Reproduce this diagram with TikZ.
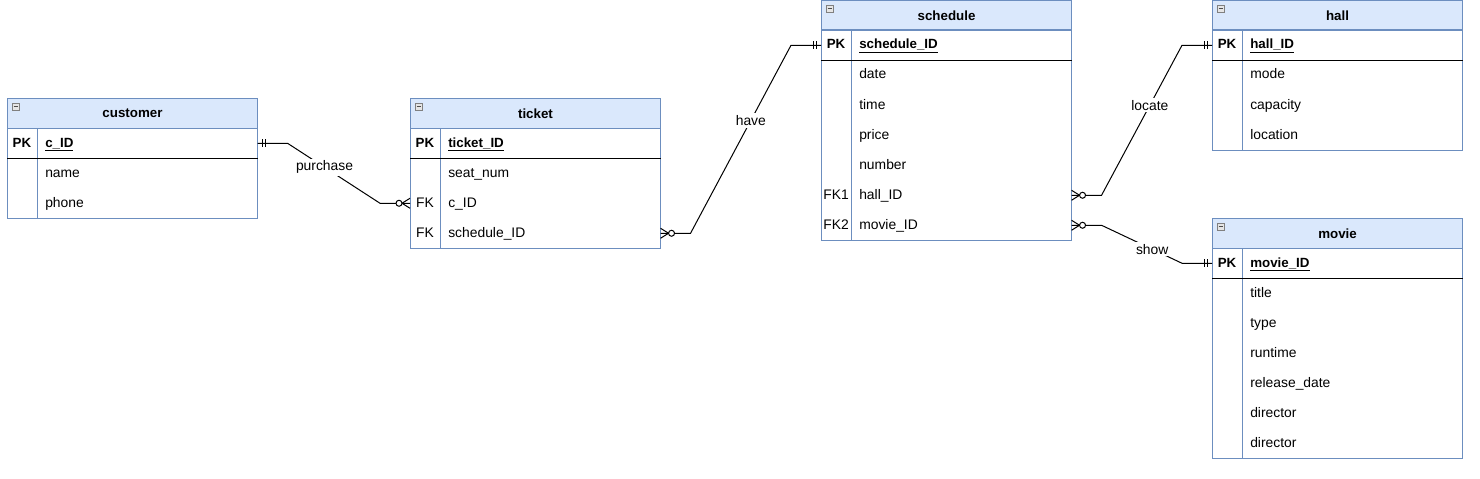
\documentclass[tikz,border=0pt]{standalone}
\usepackage{fontspec}
\setmainfont{Liberation Sans}
\usetikzlibrary{positioning}
\definecolor{hdrfill}{HTML}{DAE8FC}
\definecolor{hdrline}{HTML}{6C8EBF}
\tikzset{
    tblhead/.style={draw=hdrline, fill=hdrfill, line width=0.75pt, minimum width=187.5pt, minimum height=22.5pt, inner sep=0pt, anchor=north west, font=\bfseries},
    rowbox/.style={minimum width=187.5pt, minimum height=22.5pt, inner sep=0pt, anchor=north west},
    keytxt/.style={inner sep=0pt, text height=5.6pt, text depth=0pt},
    fldtxt/.style={anchor=west, inner sep=0pt, text height=5.6pt, text depth=0pt},
    tblline/.style={draw=hdrline, line width=0.75pt},
    rel/.style={line width=0.75pt},
    rellabel/.style={fill=white, inner sep=1.5pt},
    onemark/.pic={\draw[rel] (-5,-4) -- (-5,4) (-8,-4) -- (-8,4);},
    manymark/.pic={\draw[rel] (0,-5) -- (-8,0) -- (0,5); \draw[rel, fill=white] (-11,0) circle (2.25pt);},
    minusbox/.pic={\draw[gray, fill=gray!20, line width=0.5pt] (0,0) rectangle (7,7); \draw[black!70, line width=0.5pt] (1.5,3.5) -- (5.5,3.5);}
}
\begin{document}
\begin{tikzpicture}[x=0.75pt, y=-0.75pt, font=\fontsize{10.4}{12.5}\selectfont]
    \path[fill=white, use as bounding box] (0,0) rectangle (1480,478);

    % customer
    \node[tblhead] (cust) at (7,98) {customer};
    \pic at ([shift={(5,5)}]cust.north west) {minusbox};
    \node[rowbox] (cust-pk) at (7,128) {};
    \node[keytxt, font=\bfseries] at ([xshift=11.25pt]cust-pk.west) {PK};
    \node[fldtxt, font=\bfseries] at ([xshift=28.5pt]cust-pk.west) {\underline{c\_ID}};
    \foreach \k/\f [count=\i] in {/name, /phone} {
        \node[rowbox] (cust-r\i) at (7,{128+30*\i}) {};
        \node[keytxt] at ([xshift=11.25pt]cust-r\i.west) {\k};
        \node[fldtxt] at ([xshift=28.5pt]cust-r\i.west) {\f};
    }
    \draw[tblline] (cust-pk.north west) rectangle (cust-r2.south east);
    \draw[tblline] ([xshift=22.5pt]cust-pk.north west) -- ([xshift=22.5pt]cust-r2.south west);
    \draw[rel] (cust-pk.south west) -- (cust-pk.south east);

    % ticket
    \node[tblhead] (tk) at (410,98) {ticket};
    \pic at ([shift={(5,5)}]tk.north west) {minusbox};
    \node[rowbox] (tk-pk) at (410,128) {};
    \node[keytxt, font=\bfseries] at ([xshift=11.25pt]tk-pk.west) {PK};
    \node[fldtxt, font=\bfseries] at ([xshift=28.5pt]tk-pk.west) {\underline{ticket\_ID}};
    \foreach \k/\f [count=\i] in {/seat\_num, FK/c\_ID, FK/schedule\_ID} {
        \node[rowbox] (tk-r\i) at (410,{128+30*\i}) {};
        \node[keytxt] at ([xshift=11.25pt]tk-r\i.west) {\k};
        \node[fldtxt] at ([xshift=28.5pt]tk-r\i.west) {\f};
    }
    \draw[tblline] (tk-pk.north west) rectangle (tk-r3.south east);
    \draw[tblline] ([xshift=22.5pt]tk-pk.north west) -- ([xshift=22.5pt]tk-r3.south west);
    \draw[rel] (tk-pk.south west) -- (tk-pk.south east);

    % schedule
    \node[tblhead] (sch) at (821,0) {schedule};
    \pic at ([shift={(5,5)}]sch.north west) {minusbox};
    \node[rowbox] (sch-pk) at (821,30) {};
    \node[keytxt, font=\bfseries] at ([xshift=11.25pt]sch-pk.west) {PK};
    \node[fldtxt, font=\bfseries] at ([xshift=28.5pt]sch-pk.west) {\underline{schedule\_ID}};
    \foreach \k/\f [count=\i] in {/date, /time, /price, /number, FK1/hall\_ID, FK2/movie\_ID} {
        \node[rowbox] (sch-r\i) at (821,{30+30*\i}) {};
        \node[keytxt] at ([xshift=11.25pt]sch-r\i.west) {\k};
        \node[fldtxt] at ([xshift=28.5pt]sch-r\i.west) {\f};
    }
    \draw[tblline] (sch-pk.north west) rectangle (sch-r6.south east);
    \draw[tblline] ([xshift=22.5pt]sch-pk.north west) -- ([xshift=22.5pt]sch-r6.south west);
    \draw[rel] (sch-pk.south west) -- (sch-pk.south east);

    % hall
    \node[tblhead] (hall) at (1212,0) {hall};
    \pic at ([shift={(5,5)}]hall.north west) {minusbox};
    \node[rowbox] (hall-pk) at (1212,30) {};
    \node[keytxt, font=\bfseries] at ([xshift=11.25pt]hall-pk.west) {PK};
    \node[fldtxt, font=\bfseries] at ([xshift=28.5pt]hall-pk.west) {\underline{hall\_ID}};
    \foreach \k/\f [count=\i] in {/mode, /capacity, /location} {
        \node[rowbox] (hall-r\i) at (1212,{30+30*\i}) {};
        \node[keytxt] at ([xshift=11.25pt]hall-r\i.west) {\k};
        \node[fldtxt] at ([xshift=28.5pt]hall-r\i.west) {\f};
    }
    \draw[tblline] (hall-pk.north west) rectangle (hall-r3.south east);
    \draw[tblline] ([xshift=22.5pt]hall-pk.north west) -- ([xshift=22.5pt]hall-r3.south west);
    \draw[rel] (hall-pk.south west) -- (hall-pk.south east);

    % movie
    \node[tblhead] (mov) at (1212,218) {movie};
    \pic at ([shift={(5,5)}]mov.north west) {minusbox};
    \node[rowbox] (mov-pk) at (1212,248) {};
    \node[keytxt, font=\bfseries] at ([xshift=11.25pt]mov-pk.west) {PK};
    \node[fldtxt, font=\bfseries] at ([xshift=28.5pt]mov-pk.west) {\underline{movie\_ID}};
    \foreach \k/\f [count=\i] in {/title, /type, /runtime, /release\_date, /director, /director} {
        \node[rowbox] (mov-r\i) at (1212,{248+30*\i}) {};
        \node[keytxt] at ([xshift=11.25pt]mov-r\i.west) {\k};
        \node[fldtxt] at ([xshift=28.5pt]mov-r\i.west) {\f};
    }
    \draw[tblline] (mov-pk.north west) rectangle (mov-r6.south east);
    \draw[tblline] ([xshift=22.5pt]mov-pk.north west) -- ([xshift=22.5pt]mov-r6.south west);
    \draw[rel] (mov-pk.south west) -- (mov-pk.south east);

    % relations
    \draw[rel] (cust-pk.east) -- ++(30,0) -- node[rellabel, pos=0.4] {purchase} ([xshift=-22.5pt]tk-r2.west) -- (tk-r2.west);
    \pic[xscale=-1] at (cust-pk.east) {onemark};
    \pic at (tk-r2.west) {manymark};

    \draw[rel] (tk-r3.east) -- ++(30,0) -- node[rellabel, pos=0.6] {have} ([xshift=-22.5pt]sch-pk.west) -- (sch-pk.west);
    \pic[xscale=-1] at (tk-r3.east) {manymark};
    \pic at (sch-pk.west) {onemark};

    \draw[rel] (sch-r5.east) -- ++(30,0) -- node[rellabel, pos=0.6] {locate} ([xshift=-22.5pt]hall-pk.west) -- (hall-pk.west);
    \pic[xscale=-1] at (sch-r5.east) {manymark};
    \pic at (hall-pk.west) {onemark};

    \draw[rel] (sch-r6.east) -- ++(30,0) -- node[rellabel, pos=0.63] {show} ([xshift=-22.5pt]mov-pk.west) -- (mov-pk.west);
    \pic[xscale=-1] at (sch-r6.east) {manymark};
    \pic at (mov-pk.west) {onemark};
\end{tikzpicture}
\end{document}
